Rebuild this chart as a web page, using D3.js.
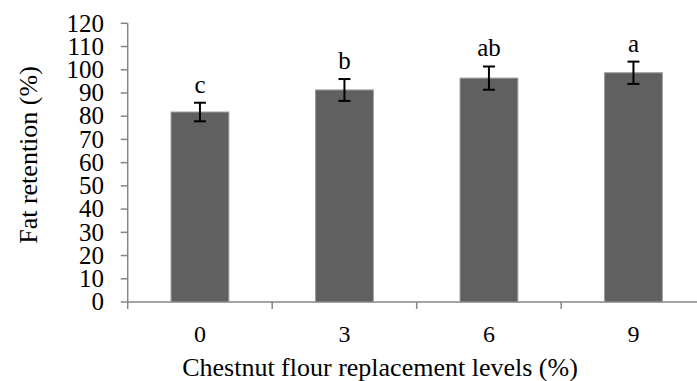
<html>

<head>
  <meta charset="utf-8">
  <script src="https://d3js.org/d3.v7.min.js"></script>
  <style>
    body {
      margin: 0;
      background: #fff;
    }

    text {
      font-family: "Liberation Serif", "Times New Roman", serif;
      fill: #000;
    }
  </style>
</head>

<body>
  <svg id="chart" width="697" height="381"></svg>

  <script>
    // values
    const levels = ["0", "3", "6", "9"];
    const fatRetention = [81.8, 91.3, 96.4, 98.7];
    const errors = [4.0, 4.7, 5.0, 4.8];
    const letters = ["c", "b", "ab", "a"];
    const yTicks = [0, 10, 20, 30, 40, 50, 60, 70, 80, 90, 100, 110, 120];

    const svg = d3.select("svg#chart");
    const axisColor = "#868686";
    const plot = { left: 127.7, right: 705.7, top: 23.3, bottom: 302 };

    const xScale = d3.scaleBand()
      .domain(levels)
      .range([plot.left, plot.right])
      .paddingInner(0.6)
      .paddingOuter(0.3);

    const yScale = d3.scaleLinear()
      .domain([0, 120])
      .range([plot.bottom, plot.top]);

    // y axis
    let yAxis = svg.append("g").attr("class", "y axis");
    yAxis.append("line")
      .attr("x1", plot.left).attr("x2", plot.left)
      .attr("y1", yScale(120)).attr("y2", plot.bottom)
      .attr("stroke", axisColor).attr("stroke-width", 1.5);
    yAxis.selectAll("line.tick").data(yTicks)
      .join("line")
      .attr("class", "tick")
      .attr("x1", plot.left - 7).attr("x2", plot.left)
      .attr("y1", d => yScale(d)).attr("y2", d => yScale(d))
      .attr("stroke", axisColor).attr("stroke-width", 1.5);
    yAxis.selectAll("text").data(yTicks)
      .join("text")
      .attr("x", 104)
      .attr("y", d => yScale(d))
      .attr("dy", "0.33em")
      .attr("text-anchor", "end")
      .style("font-size", "25px")
      .text(d => d);

    // x axis, ticks sit between the categories
    const step = xScale.step();
    const xTickPos = d3.range(levels.length + 1).map(i => plot.left + i * step);
    let xAxis = svg.append("g").attr("class", "x axis");
    xAxis.append("line")
      .attr("x1", plot.left).attr("x2", plot.right)
      .attr("y1", plot.bottom).attr("y2", plot.bottom)
      .attr("stroke", axisColor).attr("stroke-width", 1.5);
    xAxis.selectAll("line.tick").data(xTickPos)
      .join("line")
      .attr("class", "tick")
      .attr("x1", d => d).attr("x2", d => d)
      .attr("y1", plot.bottom).attr("y2", plot.bottom + 7)
      .attr("stroke", axisColor).attr("stroke-width", 1.5);
    xAxis.selectAll("text").data(levels)
      .join("text")
      .attr("x", d => xScale(d) + xScale.bandwidth() / 2)
      .attr("y", 341.7)
      .attr("text-anchor", "middle")
      .style("font-size", "24px")
      .text(d => d);

    // bars
    const data = levels.map((l, i) => ({ level: l, value: fatRetention[i], err: errors[i], letter: letters[i] }));

    svg.append("g").selectAll("rect").data(data)
      .join("rect")
      .attr("x", d => xScale(d.level))
      .attr("y", d => yScale(d.value))
      .attr("width", xScale.bandwidth())
      .attr("height", d => yScale(0) - yScale(d.value))
      .attr("fill", "#606060")
      .attr("stroke", "#9a9a9a")
      .attr("stroke-width", 1);

    // error bars
    let errG = svg.append("g");
    const cx = d => xScale(d.level) + xScale.bandwidth() / 2;
    errG.selectAll("line.stem").data(data)
      .join("line").attr("class", "stem")
      .attr("x1", cx).attr("x2", cx)
      .attr("y1", d => yScale(d.value + d.err)).attr("y2", d => yScale(d.value - d.err))
      .attr("stroke", "#000").attr("stroke-width", 2);
    errG.selectAll("line.capTop").data(data)
      .join("line").attr("class", "capTop")
      .attr("x1", d => cx(d) - 6).attr("x2", d => cx(d) + 6)
      .attr("y1", d => yScale(d.value + d.err)).attr("y2", d => yScale(d.value + d.err))
      .attr("stroke", "#000").attr("stroke-width", 2);
    errG.selectAll("line.capBot").data(data)
      .join("line").attr("class", "capBot")
      .attr("x1", d => cx(d) - 6).attr("x2", d => cx(d) + 6)
      .attr("y1", d => yScale(d.value - d.err)).attr("y2", d => yScale(d.value - d.err))
      .attr("stroke", "#000").attr("stroke-width", 2);

    // significance letters
    svg.append("g").selectAll("text").data(data)
      .join("text")
      .attr("x", cx)
      .attr("y", d => yScale(d.value + d.err) - 10)
      .attr("text-anchor", "middle")
      .style("font-size", "25px")
      .text(d => d.letter);

    // axis titles
    svg.append("text")
      .attr("x", 380)
      .attr("y", 376)
      .attr("text-anchor", "middle")
      .style("font-size", "26px")
      .text("Chestnut flour replacement levels (%)");

    svg.append("text")
      .attr("transform", "translate(37,155) rotate(-90)")
      .attr("text-anchor", "middle")
      .style("font-size", "26px")
      .text("Fat retention (%)");
  </script>
</body>

</html>
